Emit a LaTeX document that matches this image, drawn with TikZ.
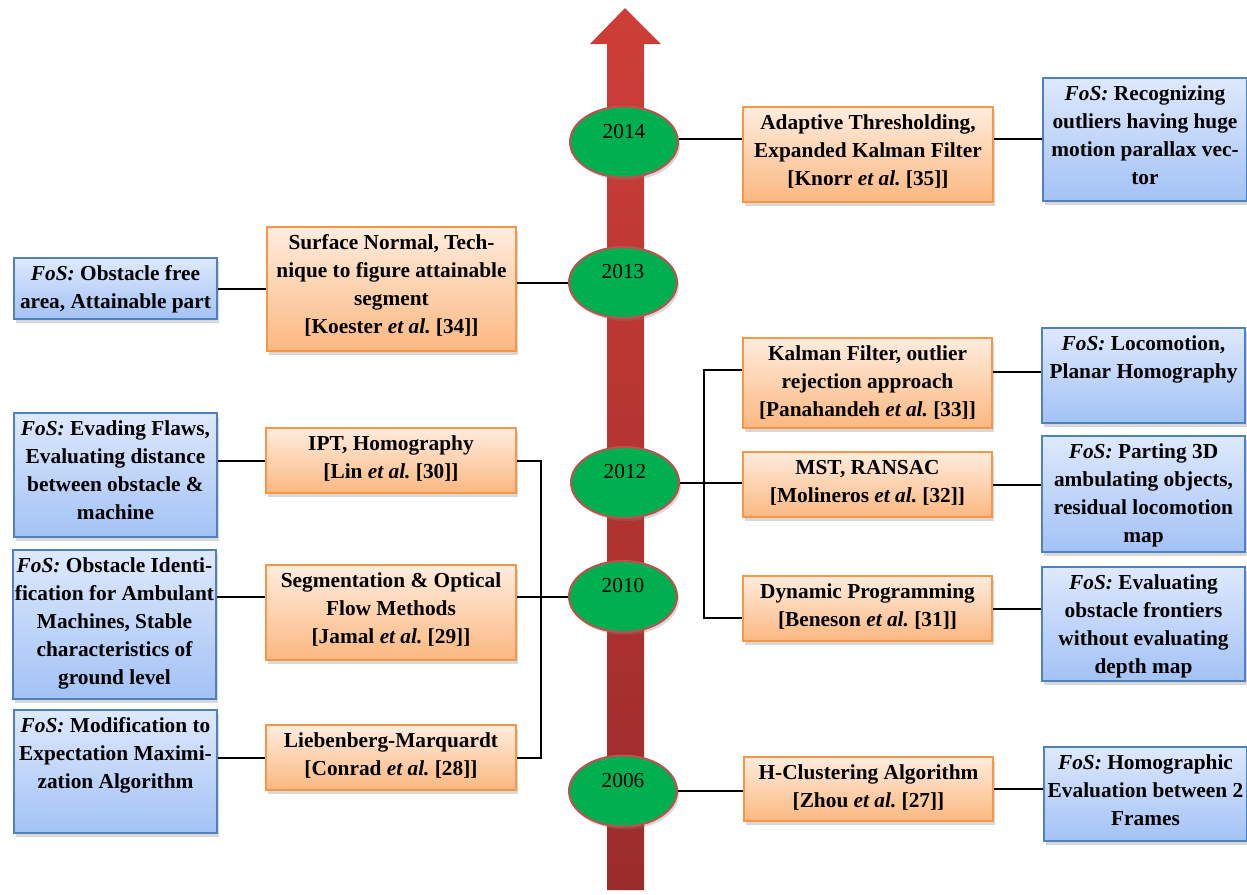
\documentclass[tikz,border=0pt]{standalone}
\usepackage{fontspec}
\setmainfont{Liberation Serif}
\usetikzlibrary{shapes.geometric,shadows}
\frenchspacing

\newlength{\du}
\setlength{\du}{0.75pt}

\definecolor{techline}{RGB}{247,150,70}
\definecolor{techtop}{RGB}{255,236,222}
\definecolor{techbot}{RGB}{251,184,128}
\definecolor{fosline}{RGB}{79,129,189}
\definecolor{fostop}{RGB}{222,233,252}
\definecolor{fosbot}{RGB}{163,194,246}
\definecolor{yearfill}{RGB}{0,176,80}
\definecolor{yearline}{RGB}{192,80,77}
\definecolor{arrowtop}{RGB}{206,62,56}
\definecolor{arrowbot}{RGB}{155,43,43}

% fixed-size cell, text starts at the top
\newcommand{\celltext}[3]{\parbox[c][#2\du][t]{#1\du}{\centering\rule{0pt}{22\du}#3}}

\tikzset{
  techbox/.style={anchor=north west, inner sep=0pt, draw=techline, line width=2\du,
    top color=techtop, bottom color=techbot,
    drop shadow={shadow xshift=2\du, shadow yshift=-4\du, opacity=0.3},
    font=\bfseries\fontsize{16}{21}\selectfont},
  fosbox/.style={techbox, draw=fosline, top color=fostop, bottom color=fosbot},
  yearnode/.style={ellipse, draw=yearline, line width=2\du, fill=yearfill,
    minimum width=108\du, minimum height=71\du, inner sep=0pt,
    text height=15\du, text depth=23\du,
    drop shadow={shadow xshift=2\du, shadow yshift=-3\du, opacity=0.3},
    font=\fontsize{16}{19}\selectfont},
  link/.style={line width=2\du, black},
}

\begin{document}
\begin{tikzpicture}[x=\du, y=-\du]
\path[fill=white, use as bounding box] (0,0) rectangle (1247,894);
% time arrow
\shade[top color=arrowtop, bottom color=arrowbot] (607,890) -- (607,44) -- (590,44) -- (625,8) -- (661,44) -- (644,44) -- (644,890) -- cycle;

% years
\node[yearnode] (y2014) at (624,142) {2014};
\node[yearnode] (y2013) at (623,282.5) {2013};
\node[yearnode] (y2012) at (625,482.5) {2012};
\node[yearnode] (y2010) at (623,596.5) {2010};
\node[yearnode] (y2006) at (623,791) {2006};

% 2014
\node[techbox] (knorr) at (742,106) {\celltext{250}{95}{Adaptive Thresholding,\\Expanded Kalman Filter\\{}[Knorr \textit{et al.} [35]]}};
\node[fosbox] (fosRecog) at (1042,77) {\celltext{204}{123}{\textit{FoS:} Recognizing\\outliers having huge\\motion parallax vec-\\tor}};

% 2013
\node[techbox] (koester) at (266,226) {\celltext{249}{124}{Surface Normal, Tech-\\nique to figure attainable\\segment\\{}[Koester \textit{et al.} [34]]}};
\node[fosbox] (fosFree) at (13,257) {\celltext{203}{61}{\textit{FoS:} Obstacle free\\area, Attainable part}};

% 2012
\node[techbox] (kalman) at (742,337) {\celltext{249}{90}{Kalman Filter, outlier\\rejection approach\\{}[Panahandeh \textit{et al.} [33]]}};
\node[techbox] (mst) at (742,451) {\celltext{249}{65}{MST, RANSAC\\{}[Molineros \textit{et al.} [32]]}};
\node[techbox] (dyn) at (742,575) {\celltext{249}{65}{Dynamic Programming\\{}[Beneson \textit{et al.} [31]]}};
\node[fosbox] (fosLoco) at (1041,327) {\celltext{203}{95}{\textit{FoS:} Locomotion,\\Planar Homography}};
\node[fosbox] (fosPart) at (1041,435) {\celltext{203}{116}{\textit{FoS:} Parting 3D\\ambulating objects,\\residual locomotion\\map}};
\node[fosbox] (fosFront) at (1041,566) {\celltext{203}{114}{\textit{FoS:} Evaluating\\obstacle frontiers\\without evaluating\\depth map}};

% 2010
\node[techbox] (ipt) at (265,427) {\celltext{250}{65}{IPT, Homography\\{}[Lin \textit{et al.} [30]]}};
\node[techbox] (seg) at (265,564) {\celltext{250}{95}{Segmentation \& Optical\\Flow Methods\\{}[Jamal \textit{et al.} [29]]}};
\node[techbox] (lieb) at (265,724) {\celltext{250}{65}{Liebenberg-Marquardt\\{}[Conrad \textit{et al.} [28]]}};
\node[fosbox] (fosFlaw) at (13,412) {\celltext{203}{124}{\textit{FoS:} Evading Flaws,\\Evaluating distance\\between obstacle \&\\machine}};
\node[fosbox] (fosIdent) at (12,549) {\celltext{203}{149}{\textit{FoS:} Obstacle Identi-\\fication for Ambulant\\Machines, Stable\\characteristics of\\ground level}};
\node[fosbox] (fosModif) at (13,709) {\celltext{203}{123}{\textit{FoS:} Modification to\\Expectation Maximi-\\zation Algorithm}};

% 2006
\node[techbox] (hclust) at (743,756) {\celltext{249}{64}{H-Clustering Algorithm\\{}[Zhou \textit{et al.} [27]]}};
\node[fosbox] (fosHomo) at (1043,746) {\celltext{203}{94}{\textit{FoS:} Homographic\\Evaluation between 2\\Frames}};

% junctions
\coordinate (j2012) at (704,482.5);
\coordinate (j2010) at (541,596.5);

% links
\draw[link] ([yshift=3\du]y2014.east) -- ([yshift=3\du]y2014.east -| knorr.west);
\draw[link] ([yshift=3\du]y2014.east -| knorr.east) -- ([yshift=3\du]y2014.east -| fosRecog.west);
\draw[link] (fosFree.east) -- (fosFree.east -| koester.west);
\draw[link] (y2013.west -| koester.east) -- (y2013.west);
\draw[link] (y2012.east) -- (y2012.east -| mst.west);
\draw[link] ([yshift=13\du]kalman.west) -| (j2012) |- ([yshift=-9.5\du]dyn.west);
\draw[link] ([yshift=11\du]kalman.east) -- ([yshift=11\du]kalman.east -| fosLoco.west);
\draw[link] (mst.east) -- (mst.east -| fosPart.west);
\draw[link] (dyn.east) -- (dyn.east -| fosFront.west);
\draw[link] (ipt.east) -| (j2010) |- (lieb.east);
\draw[link] (y2010.west -| seg.east) -- (y2010.west);
\draw[link] (ipt.west -| fosFlaw.east) -- (ipt.west);
\draw[link] (y2010.west -| fosIdent.east) -- (y2010.west -| seg.west);
\draw[link] (lieb.west -| fosModif.east) -- (lieb.west);
\draw[link] (y2006.east) -- (y2006.east -| hclust.west);
\draw[link] (hclust.east) -- (hclust.east -| fosHomo.west);
\end{tikzpicture}
\end{document}
